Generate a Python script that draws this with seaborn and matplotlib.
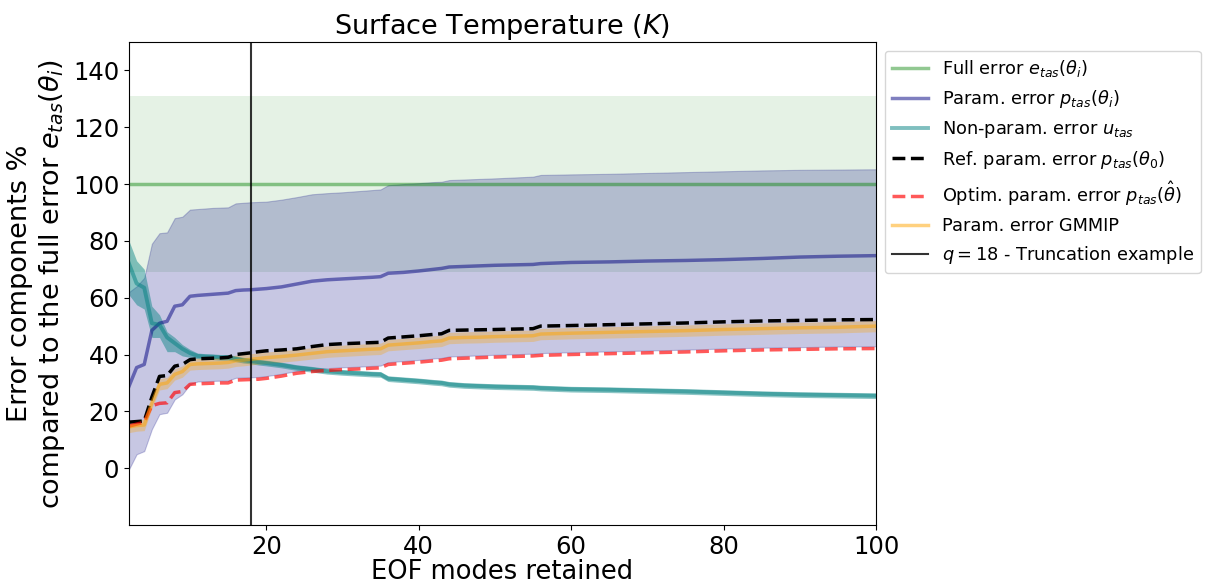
import numpy as np
import pandas as pd
import matplotlib
matplotlib.use("Agg")
import matplotlib.pyplot as plt
import seaborn as sns

# Number of EOF modes retained
modes = [2, 3, 4, 5, 6, 7, 8, 9, 10, 11, 12, 13, 14, 15, 16, 17, 18, 19, 20,
         22, 24, 26, 28, 30, 32, 34, 35, 36, 38, 40, 42, 43, 44, 46, 48, 50,
         55, 56, 60, 65, 70, 75, 80, 85, 90, 95, 100]

# Full error (reference level and spread), in % of the full error
full_error = 100.0
full_lo = 69.0
full_hi = 131.0

# Parametric error p_tas(theta_i): median and spread
param_err = [28.8, 35.4, 36.5, 48.5, 51.0, 51.7, 57.0, 57.5, 60.5, 60.8, 61.0,
             61.2, 61.4, 61.6, 62.5, 62.7, 62.8, 63.0, 63.2, 63.8, 64.8, 65.8,
             66.3, 66.6, 66.9, 67.2, 67.4, 68.6, 68.9, 69.4, 70.0, 70.3, 70.8,
             71.0, 71.2, 71.4, 71.7, 72.0, 72.4, 72.6, 72.9, 73.1, 73.4, 73.8,
             74.3, 74.6, 74.8]
param_lo = [-0.4, 4.9, 6.0, 13.7, 19.0, 19.5, 24.2, 26.0, 29.5, 30.5, 30.6,
            30.7, 30.8, 30.8, 31.8, 31.9, 32.0, 32.1, 32.4, 33.2, 34.2, 34.8,
            35.2, 35.5, 35.7, 36.0, 36.1, 37.3, 37.7, 38.1, 38.6, 38.8, 39.3,
            39.5, 39.7, 39.9, 40.3, 40.5, 40.8, 41.1, 41.4, 41.7, 42.1, 42.4,
            42.6, 42.8, 42.9]
param_hi = [62.0, 64.0, 67.0, 79.0, 82.7, 83.0, 88.0, 88.5, 91.0, 91.2, 91.4,
            91.6, 91.7, 91.8, 93.2, 93.4, 93.6, 93.7, 93.8, 94.5, 95.4, 96.4,
            96.8, 97.1, 97.5, 97.9, 98.1, 99.6, 100.0, 100.3, 100.7, 100.8,
            101.4, 101.6, 101.8, 102.0, 102.6, 103.2, 103.4, 103.6, 103.9,
            104.2, 104.5, 104.8, 105.0, 105.1, 105.2]

# Non-parametric error u_tas: median and spread
nonparam_err = [72.0, 65.0, 63.5, 51.0, 50.5, 46.0, 44.0, 42.0, 40.5, 39.5,
                39.3, 39.2, 39.0, 39.0, 38.5, 38.0, 37.7, 37.3, 37.0, 36.3,
                35.4, 34.8, 34.1, 33.7, 33.4, 33.1, 33.0, 31.5, 31.1, 30.7,
                30.2, 30.0, 29.5, 29.1, 28.9, 28.7, 28.4, 28.2, 27.8, 27.6,
                27.3, 27.0, 26.6, 26.2, 25.9, 25.7, 25.5]
nonparam_lo = [61.0, 57.5, 56.0, 46.0, 46.0, 41.0, 41.0, 39.5, 39.0, 38.5,
               38.3, 38.2, 38.0, 38.0, 37.5, 37.0, 36.7, 36.3, 36.0, 35.3,
               34.4, 33.8, 33.1, 32.7, 32.4, 32.1, 32.0, 30.5, 30.1, 29.7,
               29.2, 29.0, 28.5, 28.1, 27.9, 27.7, 27.4, 27.2, 26.8, 26.6,
               26.3, 26.0, 25.6, 25.2, 24.9, 24.7, 24.5]
nonparam_hi = [80.0, 73.0, 70.0, 57.0, 54.0, 48.0, 46.0, 43.5, 41.8, 40.5,
               40.3, 40.2, 40.0, 40.0, 39.5, 39.0, 38.7, 38.3, 38.0, 37.3,
               36.4, 35.8, 35.1, 34.7, 34.4, 34.1, 34.0, 32.5, 32.1, 31.7,
               31.2, 31.0, 30.5, 30.1, 29.9, 29.7, 29.4, 29.2, 28.8, 28.6,
               28.3, 28.0, 27.6, 27.2, 26.9, 26.7, 26.5]

# Reference parametric error p_tas(theta_0)
ref_err = [16.2, 16.4, 16.6, 25.0, 32.3, 32.6, 35.9, 36.5, 38.2, 38.5, 38.6,
           38.7, 38.8, 39.0, 40.0, 40.3, 40.6, 41.0, 41.3, 41.6, 42.0, 42.8,
           43.5, 43.8, 44.0, 44.2, 44.3, 45.8, 46.2, 46.6, 47.1, 47.3, 48.5,
           48.6, 48.7, 48.8, 49.1, 50.0, 50.2, 50.5, 50.8, 51.1, 51.5, 51.8,
           52.0, 52.2, 52.3]

# Optimised parametric error p_tas(theta_hat)
optim_err = [14.8, 15.5, 16.2, 22.0, 22.8, 23.0, 26.6, 27.0, 29.5, 29.7, 29.8,
             29.9, 30.0, 30.0, 31.0, 31.1, 31.2, 31.3, 31.6, 32.4, 33.4, 34.0,
             34.4, 34.7, 34.9, 35.2, 35.3, 36.5, 36.9, 37.3, 37.8, 38.0, 38.5,
             38.7, 38.9, 39.1, 39.5, 39.7, 40.0, 40.3, 40.6, 40.9, 41.3, 41.6,
             41.8, 42.0, 42.1]

# GMMIP parametric error: median and spread
gmmip_err = [14.5, 15.0, 15.2, 23.0, 29.5, 30.0, 33.0, 34.0, 36.5, 36.7, 36.8,
             36.9, 37.0, 37.2, 37.8, 38.0, 38.3, 38.6, 38.9, 39.3, 39.8, 40.4,
             41.0, 41.3, 41.6, 41.9, 42.0, 43.3, 43.7, 44.1, 44.6, 44.8, 45.8,
             46.0, 46.1, 46.3, 46.6, 47.2, 47.5, 47.8, 48.1, 48.4, 48.8, 49.1,
             49.4, 49.6, 50.0]
gmmip_lo = [12.5, 13.0, 13.2, 21.0, 27.5, 28.0, 31.0, 32.0, 34.5, 34.7, 34.8,
            34.9, 35.0, 35.2, 35.8, 36.0, 36.3, 36.6, 36.9, 37.3, 37.8, 38.4,
            39.0, 39.3, 39.6, 39.9, 40.0, 41.3, 41.7, 42.1, 42.6, 42.8, 43.8,
            44.0, 44.1, 44.3, 44.6, 45.2, 45.5, 45.8, 46.1, 46.4, 46.8, 47.1,
            47.4, 47.6, 48.0]
gmmip_hi = [16.5, 17.0, 17.2, 25.0, 31.5, 32.0, 35.0, 36.0, 38.5, 38.7, 38.8,
            38.9, 39.0, 39.2, 39.8, 40.0, 40.3, 40.6, 40.9, 41.3, 41.8, 42.4,
            43.0, 43.3, 43.6, 43.9, 44.0, 45.3, 45.7, 46.1, 46.6, 46.8, 47.8,
            48.0, 48.1, 48.3, 48.6, 49.2, 49.5, 49.8, 50.1, 50.4, 50.8, 51.1,
            51.4, 51.6, 52.0]

truncation_q = 18

df = pd.DataFrame({
    "modes": modes,
    "param": param_err, "param_lo": param_lo, "param_hi": param_hi,
    "nonparam": nonparam_err, "nonparam_lo": nonparam_lo, "nonparam_hi": nonparam_hi,
    "ref": ref_err, "optim": optim_err,
    "gmmip": gmmip_err, "gmmip_lo": gmmip_lo, "gmmip_hi": gmmip_hi,
})

fig = plt.figure(figsize=(12.1, 5.83), dpi=100)
ax = fig.add_axes([0.1066, 0.0995, 0.6174, 0.8285])

x_edges = [modes[0], modes[-1]]

# Spreads
ax.fill_between(x_edges, [full_lo] * 2, [full_hi] * 2, color="green", alpha=0.1, lw=0)
ax.fill_between(df["modes"], df["param_lo"], df["param_hi"], color="navy", alpha=0.22, lw=0.8,
                edgecolor=(0, 0, 0.5, 0.15))
ax.fill_between(df["modes"], df["nonparam_lo"], df["nonparam_hi"], color="teal", alpha=0.45, lw=0)
ax.fill_between(df["modes"], df["gmmip_lo"], df["gmmip_hi"], color="orange", alpha=0.3, lw=0)

# Central estimates
sns.lineplot(x=x_edges, y=[full_error] * 2, ax=ax, color="green", alpha=0.43, lw=2.5,
             label=r"Full error $e_{tas}(\theta_i)$")
sns.lineplot(data=df, x="modes", y="param", ax=ax, color="navy", alpha=0.5, lw=2.5,
             label=r"Param. error $p_{tas}(\theta_i)$")
sns.lineplot(data=df, x="modes", y="nonparam", ax=ax, color="teal", alpha=0.5, lw=2.8,
             label=r"Non-param. error $u_{tas}$")
sns.lineplot(data=df, x="modes", y="ref", ax=ax, color="black", lw=2.5, linestyle="--",
             label=r"Ref. param. error $p_{tas}(\theta_0)$")
sns.lineplot(data=df, x="modes", y="optim", ax=ax, color="red", alpha=0.65, lw=2.5, linestyle="--",
             label=r"Optim. param. error $p_{tas}(\hat{\theta})$")
sns.lineplot(data=df, x="modes", y="gmmip", ax=ax, color="orange", alpha=0.5, lw=2.5,
             label="Param. error GMMIP")
ax.axvline(truncation_q, color="black", lw=1.5, alpha=0.8,
           label=rf"$q={truncation_q}$ - Truncation example")

ax.set_xlim(2, 100)
ax.set_ylim(-20, 150)
ax.set_yticks(np.arange(0, 141, 20))
ax.set_xticks([20, 40, 60, 80, 100])
ax.tick_params(labelsize=17.5)

ax.set_title(r"Surface Temperature ($K$)", fontsize=19.5)
ax.set_xlabel("EOF modes retained", fontsize=18.5, labelpad=0)
ax.set_ylabel("Error components %\n" + r"compared to the full error $e_{tas}(\theta_i)$",
              fontsize=19.5)

ax.legend(loc="upper left", bbox_to_anchor=(1.0, 1.0), fontsize=12.8, frameon=True)

fig.savefig("out.png", dpi=100)
